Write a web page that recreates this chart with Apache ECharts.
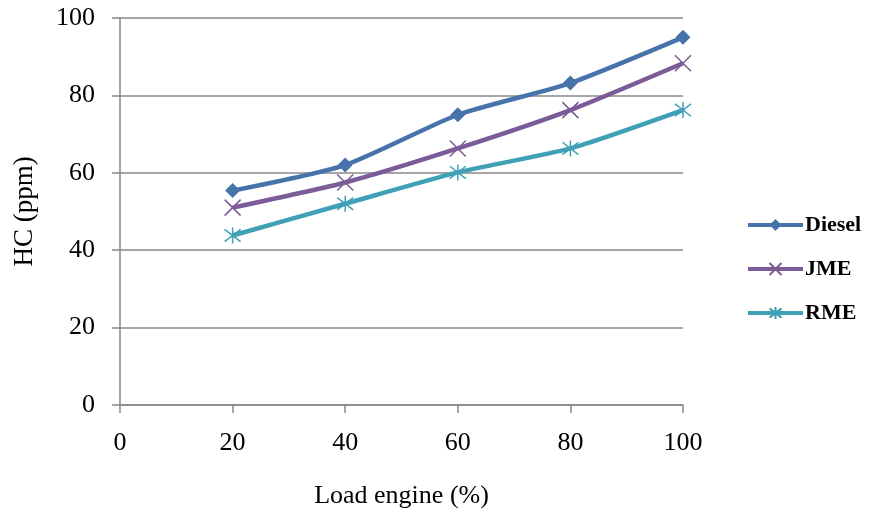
<!DOCTYPE html>
<html><head><meta charset="utf-8">
<script src="https://cdn.jsdelivr.net/npm/echarts@6/dist/echarts.min.js"></script>
<style>html,body{margin:0;padding:0;background:#fff}#c{width:872px;height:515px}</style>
</head><body><div id="c"></div>
<script>
const loads = [20, 40, 60, 80, 100];
const diesel = [55.4, 62, 75, 83.2, 95];
const jme = [51, 57.5, 66.3, 76.2, 88.3];
const rme = [43.8, 52, 60.1, 66.3, 76.2];
const xTicks = [0, 20, 40, 60, 80, 100];
const yTicks = [0, 20, 40, 60, 80, 100];

const FONT = '"Liberation Serif", "Times New Roman", serif';
const C_D = '#4673AA', C_J = '#7B5B98', C_R = '#40A0B6';
const xPath = 'path://M0,0L10,10M10,0L0,10';
const starPath = 'path://M0,0L10,10M10,0L0,10M5,-1.5L5,11.5';

function pairs(ys){ return loads.map((x,i)=>[x, ys[i]]); }

const chart = echarts.init(document.getElementById('c'));
chart.setOption({
  animation: false,
  backgroundColor: '#fff',
  grid: { left: 120, right: 189, top: 18, bottom: 110, containLabel: false },
  legend: {
    orient: 'vertical', left: 741, top: 209,
    itemWidth: 55, itemHeight: 15, itemGap: 22,
    lineStyle: { width: 4 },
    textStyle: { fontFamily: FONT, fontSize: 22, color: '#000', fontWeight: 'bold', padding: [0, 0, 0, -3] },
    data: ['Diesel', 'JME', 'RME']
  },
  xAxis: {
    type: 'value', min: xTicks[0], max: xTicks[xTicks.length-1], interval: 20,
    name: 'Load engine (%)', nameLocation: 'middle', nameGap: 78,
    nameTextStyle: { fontFamily: FONT, fontSize: 26, color: '#000' },
    axisLine: { show: true, lineStyle: { color: '#888', width: 1.5 } },
    axisTick: { show: true, length: 8, lineStyle: { color: '#888', width: 1.5 } },
    axisLabel: { fontFamily: FONT, fontSize: 26, color: '#000', margin: 25 },
    splitLine: { show: false }
  },
  yAxis: {
    type: 'value', min: yTicks[0], max: yTicks[yTicks.length-1], interval: 20,
    name: 'HC (ppm)', nameLocation: 'middle', nameGap: 82, nameRotate: 90,
    nameTextStyle: { fontFamily: FONT, fontSize: 27, color: '#000' },
    axisLine: { show: true, lineStyle: { color: '#888', width: 1.5 } },
    axisTick: { show: true, length: 8, lineStyle: { color: '#888', width: 1.5 } },
    axisLabel: { fontFamily: FONT, fontSize: 26, color: '#000', margin: 25 },
    splitLine: { show: true, lineStyle: { color: '#888', width: 1.5 } }
  },
  series: [
    { name: 'Diesel', type: 'line', data: pairs(diesel), smooth: 0.2,
      symbol: 'diamond', symbolSize: 15,
      lineStyle: { color: C_D, width: 4.5 }, itemStyle: { color: C_D } },
    { name: 'JME', type: 'line', data: pairs(jme), smooth: 0.2,
      symbol: xPath, symbolSize: 16,
      lineStyle: { color: C_J, width: 4.5 },
      itemStyle: { color: 'none', borderColor: C_J, borderWidth: 1.5 } },
    { name: 'RME', type: 'line', data: pairs(rme), smooth: 0.2,
      symbol: starPath, symbolSize: 16,
      lineStyle: { color: C_R, width: 4.5 },
      itemStyle: { color: 'none', borderColor: C_R, borderWidth: 1.5 } }
  ]
});
</script></body></html>
